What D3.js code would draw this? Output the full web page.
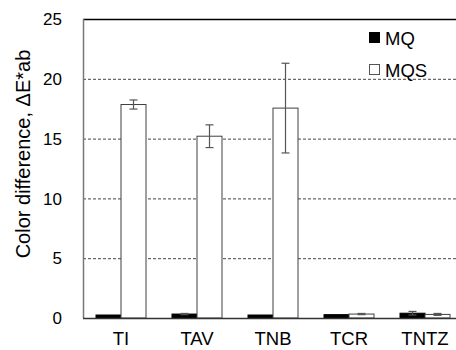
<!DOCTYPE html>
<html>
<head>
<meta charset="utf-8">
<script src="https://cdn.jsdelivr.net/npm/d3@7"></script>
<style>
  body { margin: 0; background: #fff; }
  svg { display: block; font-family: Arial, "Liberation Sans", sans-serif; }
</style>
</head>
<body>
<svg id="chart" width="456" height="350"></svg>
<script>
var categories = ['TI', 'TAV', 'TNB', 'TCR', 'TNTZ'];
var seriesNames = ['MQ', 'MQS'];
var mqValues = [0.25, 0.33, 0.25, 0.28, 0.4];
var mqErrors = [0, 0.05, 0, 0, 0.15];
var mqsValues = [17.85, 15.2, 17.55, 0.33, 0.3];
var mqsErrors = [0.38, 0.95, 3.75, 0.05, 0.08];
var yTicks = [0, 5, 10, 15, 20, 25];

var svg = d3.select('#chart');
var margin = {left: 83, top: 19, right: -7, bottom: 32};
var W = 456 - margin.left - margin.right;
var H = 350 - margin.top - margin.bottom;

var g = svg.append('g').attr('transform', 'translate(' + margin.left + ',' + margin.top + ')');

var x = d3.scaleBand().domain(categories).range([0, W]).paddingInner(0).paddingOuter(0);
var x1 = d3.scaleBand().domain(seriesNames).range([13, x.bandwidth() - 13]);
var y = d3.scaleLinear().domain([0, 25]).range([H, 0]);

// gridlines
g.selectAll('line.grid').data(yTicks.filter((t) => t > 0 && t < 25))
    .enter().append('line').classed('grid', true)
    .attr('x1', 0).attr('x2', W)
    .attr('y1', (d) => y(d) + 0.5).attr('y2', (d) => y(d) + 0.5)
    .attr('stroke', '#444').attr('stroke-width', 1)
    .attr('stroke-dasharray', '3,2');

// top border
g.append('line').attr('x1', 0).attr('x2', W).attr('y1', 0.5).attr('y2', 0.5)
    .attr('stroke', '#000').attr('stroke-width', 1.5);

// data rows
var rows = categories.map((c, i) => ({
    cat: c,
    bars: [
        {s: 'MQ', v: mqValues[i], e: mqErrors[i]},
        {s: 'MQS', v: mqsValues[i], e: mqsErrors[i]}
    ]
}));

var groups = g.selectAll('g.grp').data(rows).enter().append('g').classed('grp', true)
    .attr('transform', (d) => 'translate(' + x(d.cat) + ',0)');

groups.selectAll('rect').data((d) => d.bars).enter().append('rect')
    .attr('x', (d) => x1(d.s))
    .attr('y', (d) => y(d.v))
    .attr('width', x1.bandwidth())
    .attr('height', (d) => y(0) - y(d.v))
    .attr('fill', (d) => d.s === 'MQ' ? '#000' : '#fff')
    .attr('stroke', (d) => d.s === 'MQ' ? '#000' : '#404040')
    .attr('stroke-width', 1);

// error bars
var errs = groups.selectAll('g.err').data((d) => d.bars.filter((b) => b.e > 0))
    .enter().append('g').classed('err', true)
    .attr('stroke', '#555').attr('stroke-width', 1.2);
errs.append('line')
    .attr('x1', (d) => x1(d.s) + x1.bandwidth() / 2)
    .attr('x2', (d) => x1(d.s) + x1.bandwidth() / 2)
    .attr('y1', (d) => y(d.v + d.e)).attr('y2', (d) => y(d.v - d.e));
errs.selectAll('line.cap').data((d) => [{d: d, v: d.v + d.e}, {d: d, v: d.v - d.e}])
    .enter().append('line').classed('cap', true)
    .attr('x1', (c) => x1(c.d.s) + x1.bandwidth() / 2 - 4)
    .attr('x2', (c) => x1(c.d.s) + x1.bandwidth() / 2 + 4)
    .attr('y1', (c) => y(c.v)).attr('y2', (c) => y(c.v));

// left axis
g.append('line').attr('x1', 0.5).attr('x2', 0.5).attr('y1', 0).attr('y2', H)
    .attr('stroke', '#777').attr('stroke-width', 1.5);
// bottom axis
g.append('line').attr('x1', 0).attr('x2', W).attr('y1', H + 0.5).attr('y2', H + 0.5)
    .attr('stroke', '#333').attr('stroke-width', 1.5);

// y tick labels
g.selectAll('text.ytick').data(yTicks).enter().append('text').classed('ytick', true)
    .attr('x', -21).attr('y', (d) => y(d)).attr('dy', '0.36em')
    .attr('text-anchor', 'end').attr('font-size', 17).attr('fill', '#000')
    .text((d) => d);

// x tick labels
g.selectAll('text.xtick').data(categories).enter().append('text').classed('xtick', true)
    .attr('x', (d) => x(d) + x.bandwidth() / 2).attr('y', H + 27)
    .attr('text-anchor', 'middle').attr('font-size', 18.5).attr('fill', '#000')
    .text((d) => d);

// y title
svg.append('text')
    .attr('transform', 'translate(30,154) rotate(-90)')
    .attr('text-anchor', 'middle').attr('font-size', 20).attr('fill', '#000')
    .text('Color difference, \u0394E*ab');

// legend
var legend = svg.append('g').attr('transform', 'translate(369,32)');
var li = legend.selectAll('g').data(seriesNames).enter().append('g')
    .attr('transform', (d, i) => 'translate(0,' + i * 32 + ')');
li.append('rect').attr('x', 0.5).attr('y', 0.5).attr('width', 10).attr('height', 10)
    .attr('fill', (d) => d === 'MQ' ? '#000' : '#fff')
    .attr('stroke', (d) => d === 'MQ' ? '#000' : '#555');
li.append('text').attr('x', 16).attr('y', 12.5)
    .attr('font-size', 18.5).attr('fill', '#000').text((d) => d);
</script>
</body>
</html>
